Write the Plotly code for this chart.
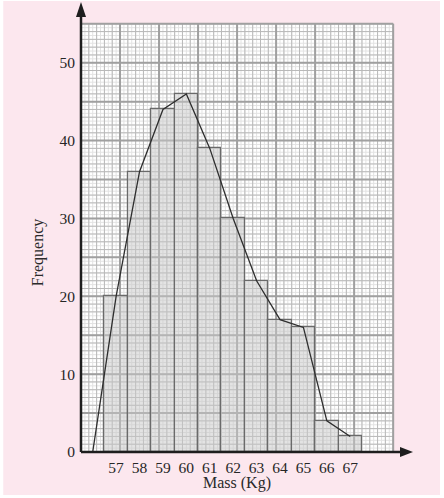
import plotly.graph_objects as go

# Histogram data: mass (kg) class mid-points and frequencies
masses = [57, 58, 59, 60, 61, 62, 63, 64, 65, 66, 67]
frequencies = [20, 36, 44, 46, 39, 30, 22, 17, 16, 4, 2]

# Frequency polygon (starts on the axis, drops to zero at 56)
poly_mass = [55.5, 56] + masses
poly_freq = [0, 0] + frequencies

x_ticks = masses
x_labels = ["57", "58", "59", "60", "61", "62", "63", "64", "65", "66", "67"]
y_ticks = [0, 10, 20, 30, 40, 50]

W, H = 444, 498
L, R, T, B = 80.8, 31, 2, 46
PW, PH = W - L - R, H - T - B
X_RANGE = [55.5, 69.68]
Y_RANGE = [0, 57.8]
GRID_X = (55.5, 55.5 + 80 / 6)
GRID_Y = (0, 55)

PINK = "#fce7ee"
AXIS = "#1e1e1e"
FONT = "Liberation Serif"


def px_x(px):
    return (px - L) / PW


def px_y(py):
    return (H - B - py) / PH


fig = go.Figure()

fig.add_trace(
    go.Bar(
        x=masses,
        y=frequencies,
        width=1,
        marker=dict(color="rgba(200,200,200,0.5)", line=dict(color="#6a6a6a", width=1.2)),
        hoverinfo="x+y",
    )
)

fig.add_trace(
    go.Scatter(
        x=poly_mass,
        y=poly_freq,
        mode="lines",
        line=dict(color="#2e2e2e", width=1.3),
        hoverinfo="skip",
    )
)

shapes = []

# pink page with thin white margin
shapes.append(dict(type="rect", xref="paper", yref="paper", layer="below",
                   x0=px_x(3), x1=px_x(440), y0=px_y(495), y1=px_y(1),
                   fillcolor=PINK, line=dict(width=0)))
# white graph paper
shapes.append(dict(type="rect", xref="x", yref="y", layer="below",
                   x0=GRID_X[0], x1=GRID_X[1], y0=GRID_Y[0], y1=GRID_Y[1],
                   fillcolor="white", line=dict(width=0)))

# graph paper lines: half, unit and bold levels
levels = [
    (1, "#e3e3e3", 1),
    (2, "#b9b9b9", 1),
    (10, "#a0a0a0", 2),
]
for step, color, width in levels:
    for k in range(0, 81, step):
        x = GRID_X[0] + k / 6
        shapes.append(dict(type="line", xref="x", yref="y", layer="below",
                           x0=x, x1=x, y0=GRID_Y[0], y1=GRID_Y[1],
                           line=dict(color=color, width=width)))
    for k in range(0, 111, step):
        y = k / 2
        shapes.append(dict(type="line", xref="x", yref="y", layer="below",
                           x0=GRID_X[0], x1=GRID_X[1], y0=y, y1=y,
                           line=dict(color=color, width=width)))

# axes with arrowheads (paper refs so they are not clipped)
shapes.append(dict(type="line", xref="paper", yref="paper", x0=0, x1=0.97, y0=0, y1=0,
                   line=dict(color=AXIS, width=2.5)))
shapes.append(dict(type="line", xref="paper", yref="paper", x0=0, x1=0, y0=0, y1=0.975,
                   line=dict(color=AXIS, width=2.5)))
shapes.append(dict(type="path", xref="paper", yref="paper", xsizemode="pixel", ysizemode="pixel",
                   xanchor=1, yanchor=0, path="M 0 0 L -13 5 L -13 -5 Z",
                   fillcolor=AXIS, line=dict(width=0)))
shapes.append(dict(type="path", xref="paper", yref="paper", xsizemode="pixel", ysizemode="pixel",
                   xanchor=0, yanchor=1, path="M 0 0 L -5 -15 L 5 -15 Z",
                   fillcolor=AXIS, line=dict(width=0)))

fig.update_layout(
    width=W,
    height=H,
    margin=dict(l=L, r=R, t=T, b=B, pad=0),
    paper_bgcolor="white",
    plot_bgcolor="rgba(0,0,0,0)",
    showlegend=False,
    bargap=0,
    shapes=shapes,
    font=dict(family=FONT, size=15, color="#2a2a2a"),
    xaxis=dict(
        range=X_RANGE,
        tickvals=x_ticks,
        ticktext=x_labels,
        showgrid=False,
        zeroline=False,
        showline=False,
        ticks="",
        ticklabelstandoff=4,
        tickfont=dict(family=FONT, size=15.5, color="#262626"),
        fixedrange=True,
    ),
    yaxis=dict(
        range=Y_RANGE,
        tickvals=y_ticks,
        showgrid=False,
        zeroline=False,
        showline=False,
        ticks="",
        ticklabelstandoff=5,
        tickfont=dict(family=FONT, size=15.5, color="#262626"),
        fixedrange=True,
    ),
    annotations=[
        dict(text="Frequency", xref="paper", yref="paper", x=px_x(38), y=px_y(252),
             textangle=-90, showarrow=False, xanchor="center", yanchor="middle",
             font=dict(family=FONT, size=16, color="#2a2a2a")),
        dict(text="Mass (Kg)", xref="paper", yref="paper", x=px_x(237), y=px_y(483),
             showarrow=False, xanchor="center", yanchor="middle",
             font=dict(family=FONT, size=16, color="#2a2a2a")),
    ],
)

# drop the default 8px page margin so the figure sits at the window origin
fig.write_html(
    "out.html",
    config={"displayModeBar": False},
    post_script="document.body.style.margin = '0';",
)
